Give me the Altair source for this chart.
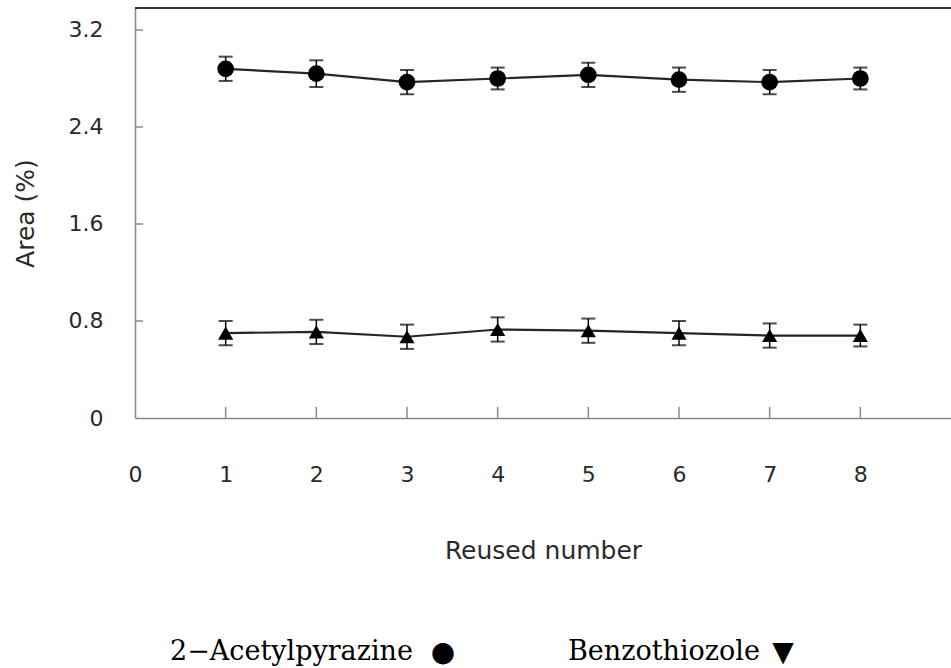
import altair as alt
import pandas as pd

# Reuse cycles and measured peak area (%) with standard deviations
reuse = [1, 2, 3, 4, 5, 6, 7, 8]
acetylpyrazine = [2.88, 2.84, 2.77, 2.80, 2.83, 2.79, 2.77, 2.80]
acetylpyrazine_sd = [0.10, 0.11, 0.10, 0.09, 0.10, 0.10, 0.10, 0.09]
benzothiozole = [0.70, 0.71, 0.67, 0.73, 0.72, 0.70, 0.68, 0.68]
benzothiozole_sd = [0.10, 0.10, 0.10, 0.10, 0.10, 0.10, 0.10, 0.09]

series_names = ["2-Acetylpyrazine", "Benzothiozole"]
x_ticks = [1, 2, 3, 4, 5, 6, 7, 8]
x_labels = [0, 1, 2, 3, 4, 5, 6, 7, 8]
y_ticks = [0, 0.8, 1.6, 2.4, 3.2]
key_labels = ["2\u2212Acetylpyrazine", "Benzothiozole"]
key_glyphs = ["\u25cf", "\u25bc"]

rows = []
for name, vals, sds in [
    (series_names[0], acetylpyrazine, acetylpyrazine_sd),
    (series_names[1], benzothiozole, benzothiozole_sd),
]:
    for x, v, s in zip(reuse, vals, sds):
        rows.append({"series": name, "reuse": x, "area": v,
                     "lo": v - s, "hi": v + s})
df = pd.DataFrame(rows)

W, H = 816, 410
x_scale = alt.Scale(domain=[0, 9], nice=False, zero=False)
y_scale = alt.Scale(domain=[0, 3.3814], nice=False)
label_font = "DejaVu Sans"

x_enc = alt.X(
    "reuse:Q", scale=x_scale,
    axis=alt.Axis(values=x_labels, format="d", title="Reused number",
                  ticks=False, grid=False, labelPadding=46,
                  titlePadding=53, labelFontSize=22, titleFontSize=25,
                  labelFont=label_font, titleFont=label_font,
                  labelColor="#2a2a2a", titleColor="#2a2a2a",
                  titleFontWeight="normal", domainColor="#8a8a8a",
                  domainWidth=1.6, labelFlush=False),
)
y_enc = alt.Y(
    "area:Q", scale=y_scale,
    axis=alt.Axis(values=y_ticks, title="Area (%)", ticks=False, grid=False,
                  labelExpr="datum.value == 0 ? '0' : format(datum.value, '.1f')",
                  labelPadding=32, titlePadding=30, labelFontSize=22,
                  titleFontSize=25, labelFont=label_font, titleFont=label_font,
                  labelColor="#2a2a2a", titleColor="#2a2a2a",
                  titleFontWeight="normal", domainColor="#8a8a8a",
                  domainWidth=1.6, labelFlush=False),
)

base = alt.Chart(df)

lines = base.mark_line(color="#262626", strokeWidth=2.2).encode(
    x=x_enc, y=y_enc, detail="series:N"
)

whiskers = base.mark_rule(color="#000000", strokeWidth=1.5).encode(
    x=alt.X("reuse:Q", scale=x_scale),
    y=alt.Y("lo:Q", scale=y_scale),
    y2="hi:Q",
)
caps_hi = base.mark_tick(orient="horizontal", color="#000000", size=14,
                         thickness=2).encode(
    x=alt.X("reuse:Q", scale=x_scale), y=alt.Y("hi:Q", scale=y_scale)
)
caps_lo = base.mark_tick(orient="horizontal", color="#000000", size=14,
                         thickness=2).encode(
    x=alt.X("reuse:Q", scale=x_scale), y=alt.Y("lo:Q", scale=y_scale)
)

points = base.mark_point(filled=True, opacity=1, color="#000000").encode(
    x=alt.X("reuse:Q", scale=x_scale),
    y=alt.Y("area:Q", scale=y_scale),
    shape=alt.Shape("series:N",
                    scale=alt.Scale(domain=series_names,
                                    range=["circle", "triangle-up"]),
                    legend=None),
    size=alt.Size("series:N",
                  scale=alt.Scale(domain=series_names, range=[280, 230]),
                  legend=None),
)

# Inward-pointing tick marks on both axes
xt = alt.Chart(pd.DataFrame({"t": x_ticks})).mark_rule(
    color="#8a8a8a", strokeWidth=1.5
).encode(x=alt.X("t:Q", scale=x_scale), y=alt.value(H), y2=alt.value(H - 11))
yt = alt.Chart(pd.DataFrame({"t": y_ticks[1:]})).mark_rule(
    color="#8a8a8a", strokeWidth=1.5
).encode(y=alt.Y("t:Q", scale=y_scale), x=alt.value(0), x2=alt.value(8))

# Top frame line
top = alt.Chart(pd.DataFrame({"t": [0]})).mark_rule(
    color="#333333", strokeWidth=2
).encode(y=alt.value(0), x=alt.value(0), x2=alt.value(W))

# Series key below the plot
key_df = pd.DataFrame({"label": key_labels, "glyph": key_glyphs,
                       "px": [35, 433], "gx": [308, 648]})
key_text = alt.Chart(key_df).mark_text(
    font="DejaVu Serif", fontSize=27, align="left", baseline="alphabetic",
    color="#000000"
).encode(x=alt.X("px:Q", scale=None), y=alt.value(652), text="label:N")
key_sym = alt.Chart(key_df).mark_text(
    font="DejaVu Sans", fontSize=28, align="center", baseline="alphabetic",
    color="#000000"
).encode(x=alt.X("gx:Q", scale=None), y=alt.value(653), text="glyph:N")

chart = alt.layer(
    lines, whiskers, caps_hi, caps_lo, points, xt, yt, top, key_text, key_sym
).properties(
    width=W, height=H,
    autosize=alt.AutoSizeParams(type="none"),
    padding={"left": 135, "top": 8, "right": 0, "bottom": 250},
).configure_view(stroke=None).configure(background="white")

chart.save("out.html", embed_options={"renderer": "svg", "actions": False})
